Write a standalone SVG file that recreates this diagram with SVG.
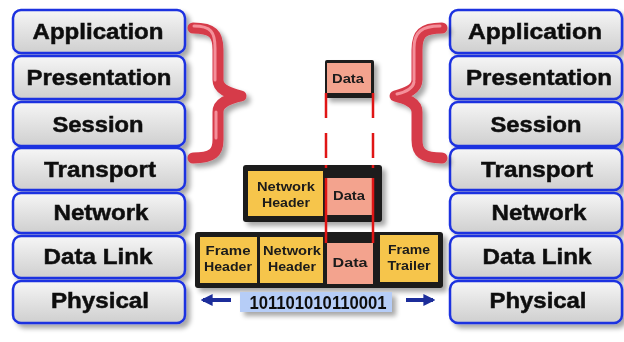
<svg xmlns="http://www.w3.org/2000/svg" width="624" height="342" viewBox="0 0 624 342">
<defs>
<linearGradient id="lg" x1="0" y1="0" x2="0" y2="1">
<stop offset="0" stop-color="#f6f6f6"/><stop offset="0.5" stop-color="#e2e2e2"/><stop offset="1" stop-color="#cfcfcf"/>
</linearGradient>
<filter id="sh" x="-20%" y="-20%" width="150%" height="160%">
<feGaussianBlur in="SourceAlpha" stdDeviation="2.5"/>
<feOffset dx="4" dy="4" result="o"/>
<feComponentTransfer><feFuncA type="linear" slope="0.35"/></feComponentTransfer>
<feMerge><feMergeNode/><feMergeNode in="SourceGraphic"/></feMerge>
</filter>
<marker id="ah" viewBox="0 0 10 10" refX="8" refY="5" markerWidth="3" markerHeight="3" orient="auto">
<path d="M0,0 L10,5 L0,10 z" fill="#1c2d9a"/>
</marker>
</defs>
<style>
.layer rect{fill:url(#lg);stroke:#1f33e0;stroke-width:2.5}
.lt{font-family:"Liberation Sans",Arial,sans-serif;font-weight:bold;font-size:22px;fill:#111;stroke:#111;stroke-width:0.5;text-anchor:middle}
.st{font-family:"Liberation Sans",Arial,sans-serif;font-weight:bold;font-size:13px;fill:#1a1a1a;text-anchor:middle}
.blk{fill:#1a1a1a}
.yel{fill:#f6c54c}
.pnk{fill:#f3a38e}
.brace{fill:none;stroke:#d63a4a;stroke-width:11;stroke-linecap:round;stroke-linejoin:round}
.brh{fill:none;stroke:#f4909a;stroke-width:3;stroke-linecap:round;stroke-linejoin:round}
.red{stroke:#e01515;stroke-width:2.5}
.arr{stroke:#1c2d9a;stroke-width:4;fill:none}
</style>
<rect width="624" height="342" fill="#ffffff"/>

<g id="left-stack" filter="url(#sh)">
<g id="l-application" class="layer"><rect x="13" y="10" width="172" height="43" rx="8"/><text class="lt" x="98" y="39" textLength="131" lengthAdjust="spacingAndGlyphs">Application</text></g>
<g id="l-presentation" class="layer"><rect x="13" y="56" width="172" height="43" rx="8"/><text class="lt" x="99" y="85" textLength="145" lengthAdjust="spacingAndGlyphs">Presentation</text></g>
<g id="l-session" class="layer"><rect x="13" y="102" width="172" height="44" rx="8"/><text class="lt" x="98" y="132" textLength="91" lengthAdjust="spacingAndGlyphs">Session</text></g>
<g id="l-transport" class="layer"><rect x="13" y="148" width="172" height="42" rx="8"/><text class="lt" x="100" y="177" textLength="112" lengthAdjust="spacingAndGlyphs">Transport</text></g>
<g id="l-network" class="layer"><rect x="13" y="193" width="172" height="40" rx="8"/><text class="lt" x="101" y="220" textLength="95" lengthAdjust="spacingAndGlyphs">Network</text></g>
<g id="l-datalink" class="layer"><rect x="13" y="236" width="172" height="42" rx="8"/><text class="lt" x="98" y="264" textLength="109" lengthAdjust="spacingAndGlyphs">Data Link</text></g>
<g id="l-physical" class="layer"><rect x="13" y="281" width="172" height="42" rx="8"/><text class="lt" x="100" y="308" textLength="98" lengthAdjust="spacingAndGlyphs">Physical</text></g>
</g>

<g id="right-stack" filter="url(#sh)">
<g id="r-application" class="layer"><rect x="450" y="10" width="172" height="43" rx="8"/><text class="lt" x="535" y="39" textLength="134" lengthAdjust="spacingAndGlyphs">Application</text></g>
<g id="r-presentation" class="layer"><rect x="450" y="56" width="172" height="43" rx="8"/><text class="lt" x="539" y="85" textLength="146" lengthAdjust="spacingAndGlyphs">Presentation</text></g>
<g id="r-session" class="layer"><rect x="450" y="102" width="172" height="44" rx="8"/><text class="lt" x="536" y="132" textLength="91" lengthAdjust="spacingAndGlyphs">Session</text></g>
<g id="r-transport" class="layer"><rect x="450" y="148" width="172" height="42" rx="8"/><text class="lt" x="537" y="177" textLength="112" lengthAdjust="spacingAndGlyphs">Transport</text></g>
<g id="r-network" class="layer"><rect x="450" y="193" width="172" height="40" rx="8"/><text class="lt" x="539" y="220" textLength="95" lengthAdjust="spacingAndGlyphs">Network</text></g>
<g id="r-datalink" class="layer"><rect x="450" y="236" width="172" height="42" rx="8"/><text class="lt" x="537" y="264" textLength="109" lengthAdjust="spacingAndGlyphs">Data Link</text></g>
<g id="r-physical" class="layer"><rect x="450" y="281" width="172" height="42" rx="8"/><text class="lt" x="538" y="308" textLength="97" lengthAdjust="spacingAndGlyphs">Physical</text></g>
</g>

<g id="braces" filter="url(#sh)">
<path class="brace" d="M193,28 C213,28 218,34 218,50 L218,80 C218,89 228,93 241,96 C228,99 218,103 218,112 L218,140 C218,152 213,158 193,158"/>
<path class="brh" d="M194,26 C211,26 215,32 215,48 L215,80 M216,112 L216,138"/>
<path class="brace" d="M442,28 C422,28 417,34 417,50 L417,80 C417,89 407,93 395,96 C407,99 417,103 417,112 L417,140 C417,152 422,158 442,158"/>
<path class="brh" d="M440,26 C422,26 414,32 414,48 L414,80 M397,94 C406,92 413,88 414,82"/>
</g>

<g id="data-top" filter="url(#sh)">
<rect class="blk" x="325" y="60" width="49" height="38" rx="2"/>
<rect class="pnk" x="327" y="63" width="44" height="30"/>
<text class="st" x="348" y="83" textLength="32" lengthAdjust="spacingAndGlyphs">Data</text>
</g>

<g id="network-packet" filter="url(#sh)">
<rect class="blk" x="243" y="165" width="139" height="57" rx="3"/>
<rect class="yel" x="248" y="171" width="75" height="45"/>
<rect class="pnk" x="325" y="178" width="48" height="37"/>
<text class="st" x="286" y="191" textLength="58" lengthAdjust="spacingAndGlyphs">Network</text>
<text class="st" x="286" y="207" textLength="48" lengthAdjust="spacingAndGlyphs">Header</text>
<text class="st" x="349" y="200" textLength="32" lengthAdjust="spacingAndGlyphs">Data</text>
</g>

<g id="frame" filter="url(#sh)">
<rect class="blk" x="195" y="232" width="248" height="56" rx="3"/>
<rect class="yel" x="200" y="237" width="57" height="46"/>
<rect class="yel" x="260" y="237" width="63" height="46"/>
<rect class="pnk" x="327" y="243" width="46" height="41"/>
<rect class="yel" x="380" y="235" width="58" height="47"/>
<text class="st" x="228" y="255" textLength="45" lengthAdjust="spacingAndGlyphs">Frame</text>
<text class="st" x="228" y="271" textLength="48" lengthAdjust="spacingAndGlyphs">Header</text>
<text class="st" x="292" y="255" textLength="58" lengthAdjust="spacingAndGlyphs">Network</text>
<text class="st" x="292" y="271" textLength="48" lengthAdjust="spacingAndGlyphs">Header</text>
<text class="st" x="350" y="267" textLength="35" lengthAdjust="spacingAndGlyphs">Data</text>
<text class="st" x="409" y="254" textLength="42" lengthAdjust="spacingAndGlyphs">Frame</text>
<text class="st" x="409" y="270" textLength="43" lengthAdjust="spacingAndGlyphs">Trailer</text>
</g>

<g id="bits" filter="url(#sh)">
<rect x="240" y="292" width="152" height="20" fill="#b6cdf7"/>
<text x="318" y="309" font-family="'Liberation Sans',Arial,sans-serif" font-weight="bold" font-size="18" fill="#111" text-anchor="middle" textLength="137" lengthAdjust="spacingAndGlyphs">101101010110001</text>
</g>

<g id="connectors">
<line class="red" x1="326" y1="93" x2="326" y2="165" stroke-dasharray="25,15"/>
<line class="red" x1="373" y1="93" x2="373" y2="165" stroke-dasharray="25,15"/>
<line class="red" x1="326" y1="165" x2="326" y2="168"/>
<line class="red" x1="373" y1="165" x2="373" y2="168"/>
<line class="red" x1="326" y1="178" x2="326" y2="243"/>
<line class="red" x1="373" y1="178" x2="373" y2="243"/>
<line class="arr" x1="231" y1="300" x2="203" y2="300" marker-end="url(#ah)"/>
<line class="arr" x1="406" y1="300" x2="433" y2="300" marker-end="url(#ah)"/>
</g>
</svg>
